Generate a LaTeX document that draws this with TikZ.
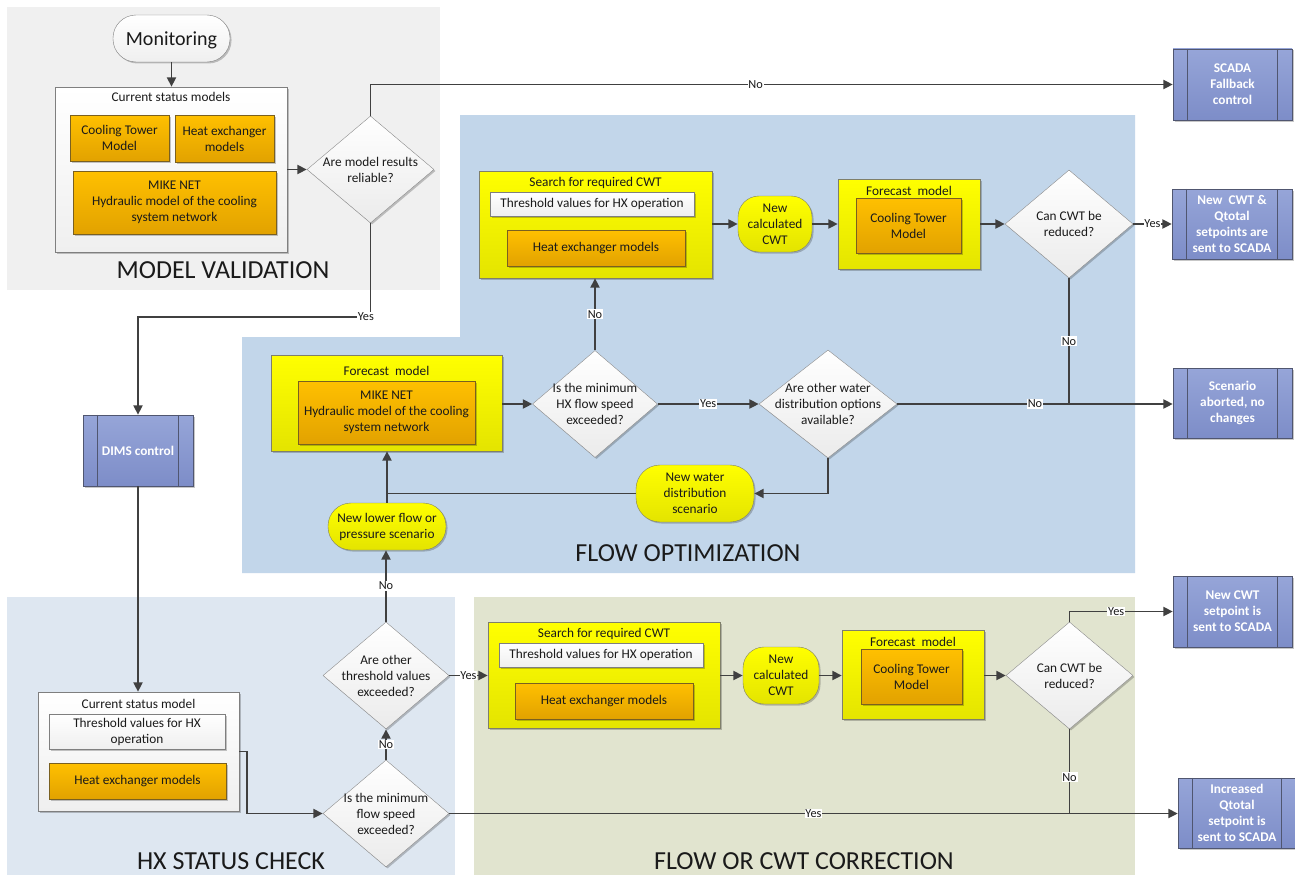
\documentclass[tikz,border=0pt]{standalone}
\usepackage{fontspec}
\setmainfont{Carlito}
\usetikzlibrary{shapes.geometric,arrows.meta,shadows}
\definecolor{txt}{HTML}{1A1A1A}
\definecolor{lc}{HTML}{404040}
\definecolor{oT}{HTML}{FFC000}
\definecolor{oB}{HTML}{E2A200}
\definecolor{oedge}{HTML}{7A6020}
\definecolor{yT}{HTML}{FFFF00}
\definecolor{yB}{HTML}{E4E400}
\definecolor{yedge}{HTML}{7F7F6A}
\definecolor{wB}{HTML}{EFEFEF}
\definecolor{wedge}{HTML}{7F7F7F}
\definecolor{bT}{HTML}{96A5D8}
\definecolor{bB}{HTML}{7D8DC8}
\definecolor{bedge}{HTML}{505670}
\definecolor{dB}{HTML}{EBEBEB}
\definecolor{dedge}{HTML}{8C8C8C}
\definecolor{bgMV}{HTML}{F0F0F0}
\definecolor{bgFO}{HTML}{C2D6EA}
\definecolor{bgHX}{HTML}{DEE7F1}
\definecolor{bgFC}{HTML}{E1E4CF}
\tikzset{
  shd/.style={drop shadow={shadow xshift=1.5pt, shadow yshift=-1.5pt, opacity=0.22, fill=black}},
  box/.style={rectangle, draw, inner sep=0pt, align=center, text=txt},
  obox/.style={box, draw=oedge, top color=oT, bottom color=oB, shd},
  ybox/.style={box, draw=yedge, top color=yT, bottom color=yB, shd},
  wbox/.style={box, draw=wedge, top color=white, bottom color=wB, shd},
  bbox/.style={box, draw=bedge, top color=bT, bottom color=bB, text=white, font=\fontsize{13.3}{16}\selectfont\bfseries, shd},
  ovalbox/.style={box, rounded corners=21pt, draw=yedge, top color=yT, bottom color=yB, shd},
  dia/.style={diamond, draw=dedge, top color=white, bottom color=dB, inner sep=0pt, shd},
  conn/.style={draw=lc, line width=1.8pt},
  arr/.style={conn, -{Triangle[length=9.5pt,width=9pt]}},
  lbl/.style={fill=white, inner sep=0.8pt, font=\fontsize{12.3}{13}\selectfont, text=txt},
  sect/.style={font=\fontsize{26}{28}\selectfont, text=txt},
  ttl/.style={text=txt, inner sep=0pt},
}
\newcommand{\bars}[1]{%
  \draw[bedge, line width=0.8pt] ([xshift=15pt]#1.north west) -- ([xshift=15pt]#1.south west);
  \draw[bedge, line width=0.8pt] ([xshift=-15pt]#1.north east) -- ([xshift=-15pt]#1.south east);}
\begin{document}
\begin{tikzpicture}[x=1pt, y=-1pt, font=\fontsize{13.3}{16}\selectfont]
\useasboundingbox (0,0) rectangle (1295,875);
\fill[white] (0,0) rectangle (1295,875);
% backgrounds
\fill[bgMV] (7,7) rectangle (440,290);
\fill[bgFO] (460,115) -- (1135,115) -- (1135,573) -- (242,573) -- (242,337) -- (460,337) -- cycle;
\fill[bgHX] (7,597) rectangle (455,875);
\fill[bgFC] (474,597) rectangle (1135,875);
% section titles
\node[sect] (tMV) at (223,270) {MODEL VALIDATION};
\node[sect] (tFO) at (688,553) {FLOW OPTIMIZATION};
\node[sect] (tHX) at (231,861) {HX STATUS CHECK};
\node[sect] (tFC) at (804,861) {FLOW OR CWT CORRECTION};

% ---------- model validation ----------
\node[box, rounded corners=23pt, draw=wedge, top color=white, bottom color=wB, shd, minimum width=117pt, minimum height=47pt, font=\fontsize{20}{22}\selectfont, text depth=0pt] (mon) at (171.5,38.5) {Monitoring};
\node[wbox, minimum width=232pt, minimum height=165pt] (csm) at (171,169.5) {};
\node[ttl] (csmt) at (171,97) {Current status models};
\node[obox, minimum width=99pt, minimum height=46pt] (ctm) at (119.5,138) {Cooling Tower\\Model};
\node[obox, minimum width=99pt, minimum height=47pt] (hxm) at (224.5,138.5) {Heat exchanger\\models};
\node[obox, minimum width=203pt, minimum height=63pt] (mike1) at (174.5,202.5) {MIKE NET\\Hydraulic model of the cooling\\system network};
\node[dia, minimum width=127pt, minimum height=107pt] (d1) at (370.5,169.5) {};
\node[ttl, align=center] (d1t) at (d1.center) {Are model results\\reliable?};

% ---------- right column ----------
\node[bbox, minimum width=119pt, minimum height=71pt] (scada1) at (1232.5,84.5) {SCADA\\Fallback\\control};
\node[bbox, minimum width=120pt, minimum height=70pt] (ncq) at (1232,224) {New\ \ CWT \&\\Qtotal\\setpoints are\\sent to SCADA};
\node[bbox, minimum width=119pt, minimum height=70pt] (scen) at (1232.5,403) {Scenario\\aborted, no\\changes};
\node[bbox, minimum width=119pt, minimum height=71pt] (ncwt) at (1232.5,611.5) {New CWT\\setpoint is\\sent to SCADA};
\node[bbox, minimum width=118pt, minimum height=70pt] (incq) at (1237,813) {Increased\\Qtotal\\setpoint is\\sent to SCADA};
\node[bbox, minimum width=110pt, minimum height=71pt] (dims) at (138,450.5) {DIMS control};
\bars{scada1}\bars{ncq}\bars{scen}\bars{ncwt}\bars{incq}\bars{dims}

% ---------- flow optimization ----------
\node[ybox, minimum width=233pt, minimum height=107pt] (s1) at (595.5,224.5) {};
\node[ttl] (s1t) at (595.5,183) {Search for required CWT};
\node[wbox, minimum width=204pt, minimum height=24pt] (thr1) at (592,204) {Threshold values for HX operation};
\node[obox, minimum width=178pt, minimum height=36pt] (hx1) at (596,248) {Heat exchanger models};
\node[ovalbox, minimum width=74pt, minimum height=56pt] (ncc1) at (775,224) {New\\calculated\\CWT};
\node[ybox, minimum width=142pt, minimum height=90pt] (f1) at (909,224) {};
\node[ttl] (f1t) at (909,191) {Forecast\ \ model};
\node[obox, minimum width=105pt, minimum height=55pt] (ct1) at (908.5,225.5) {Cooling Tower\\Model};
\node[dia, minimum width=128pt, minimum height=108pt] (d6) at (1069,224) {};
\node[ttl, align=center] (d6t) at (d6.center) {Can CWT be\\reduced?};

\node[ybox, minimum width=231pt, minimum height=96pt] (fm2) at (386.5,403) {};
\node[ttl] (fm2t) at (386.5,371) {Forecast\ \ model};
\node[obox, minimum width=177pt, minimum height=63pt] (mike2) at (386.5,412.5) {MIKE NET\\Hydraulic model of the cooling\\system network};
\node[dia, minimum width=125pt, minimum height=107pt] (d2) at (595,404) {};
\node[ttl, align=center] (d2t) at (d2.center) {Is the minimum\\HX flow speed\\exceeded?};
\node[dia, minimum width=138pt, minimum height=108pt] (d3) at (828,404) {};
\node[ttl, align=center] (d3t) at (d3.center) {Are other water\\distribution options\\available?};
\node[ovalbox, rounded corners=24pt, minimum width=118pt, minimum height=57pt] (nwd) at (695,493.5) {New water\\distribution\\scenario};
\node[ovalbox, rounded corners=23pt, minimum width=118pt, minimum height=47pt] (nlf) at (387,526.5) {New lower flow or\\pressure scenario};

% ---------- HX status check ----------
\node[wbox, minimum width=201pt, minimum height=119pt] (hxc) at (138.5,751.5) {};
\node[ttl] (hxct) at (138.5,704) {Current status model};
\node[wbox, minimum width=176pt, minimum height=35pt] (thr3) at (137,731.5) {Threshold values for HX\\operation};
\node[obox, minimum width=177pt, minimum height=36pt] (hx3) at (137.5,781) {Heat exchanger models};
\node[dia, minimum width=126pt, minimum height=107pt] (d4) at (386,675.5) {};
\node[ttl, align=center] (d4t) at (d4.center) {Are other\\threshold values\\exceeded?};
\node[dia, minimum width=126pt, minimum height=107pt] (d5) at (386,813.5) {};
\node[ttl, align=center] (d5t) at (d5.center) {Is the minimum\\flow speed\\exceeded?};

% ---------- flow or CWT correction ----------
\node[ybox, minimum width=232pt, minimum height=106pt] (s2) at (604,675) {};
\node[ttl] (s2t) at (604,634) {Search for required CWT};
\node[wbox, minimum width=204pt, minimum height=24pt] (thr2) at (601,655) {Threshold values for HX operation};
\node[obox, minimum width=178pt, minimum height=36pt] (hx2) at (604,701) {Heat exchanger models};
\node[ovalbox, minimum width=76pt, minimum height=57pt] (ncc2) at (781,675.5) {New\\calculated\\CWT};
\node[ybox, minimum width=142pt, minimum height=89pt] (f2) at (913,674.5) {};
\node[ttl] (f2t) at (913,642) {Forecast\ \ model};
\node[obox, minimum width=101pt, minimum height=55pt] (ct2) at (911.5,676.5) {Cooling Tower\\Model};
\node[dia, minimum width=127pt, minimum height=107pt] (d7) at (1069.5,675.5) {};
\node[ttl, align=center] (d7t) at (d7.center) {Can CWT be\\reduced?};

% coordinates
\coordinate (yesturn) at (138,317);

% ---------- connectors ----------
\draw[arr] (mon.south) -- (csm.north -| mon.south);
\draw[arr] (d1.west -| csm.east) -- (d1.west);
\draw[arr] (d1.north) |- node[lbl, pos=0.74] {No} (scada1.west);
\draw[arr] (d1.south) |- node[lbl, pos=0.51] {Yes} (yesturn) -- (dims.north);
\draw[arr] (dims.south) -- (hxc.north -| dims.south);
\draw[arr] (hxc.east) -- ++(8,0) |- (d5.west);
\draw[arr] (d5.north) -- node[lbl] {No} (d4.south);
\draw[arr] (d4.north) -- node[lbl] {No} (d4.north |- nlf.south);
\draw[arr] (nlf.north) -- (nlf.north |- fm2.south);
\draw[conn] (nwd.west) -- (nwd.west -| nlf.north);
\draw[arr] (d2.west -| fm2.east) -- (d2.west);
\draw[arr] (d2.north) -- node[lbl] {No} (d2.north |- s1.south);
\draw[arr] (d2.east) -- node[lbl] {Yes} (d3.west);
\draw[arr] (d3.east) -- node[lbl] {No} (scen.west |- d3.east);
\draw[arr] (d3.south) |- (nwd.east);
\draw[arr] (s1.east |- ncc1.west) -- (ncc1.west);
\draw[arr] (ncc1.east) -- (f1.west |- ncc1.east);
\draw[arr] (d6.west -| f1.east) -- (d6.west);
\draw[arr] (d6.east) -- node[lbl] {Yes} (ncq.west |- d6.east);
\draw[conn] (d6.south) -- node[lbl] {No} (d6.south |- d3.east);
\draw[arr] (d4.east) -- node[lbl] {Yes} (s2.west |- d4.east);
\draw[arr] (s2.east |- ncc2.west) -- (ncc2.west);
\draw[arr] (ncc2.east) -- (f2.west |- ncc2.east);
\draw[arr] (d7.west -| f2.east) -- (d7.west);
\draw[arr] (d7.north) |- node[lbl, pos=0.726] {Yes} (ncwt.west);
\draw[conn] (d7.south) -- node[lbl, pos=0.57] {No} (d7.south |- d5.east);
\draw[arr] (d5.east) -- node[lbl] {Yes} (incq.west |- d5.east);
\end{tikzpicture}
\end{document}
